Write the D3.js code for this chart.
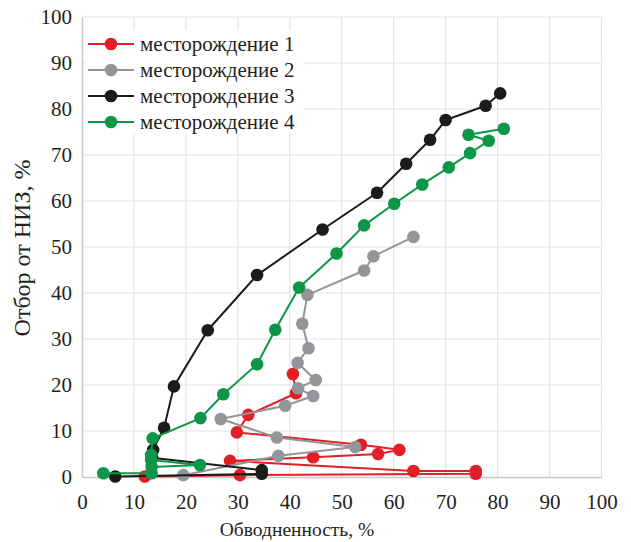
<!DOCTYPE html>
<html>
<head>
<meta charset="utf-8">
<script src="https://cdn.jsdelivr.net/npm/d3@7"></script>
<style>
  body { margin: 0; background: #fff; }
  svg text { font-family: "Liberation Serif", "DejaVu Serif", serif; fill: #231f20; }
</style>
</head>
<body>
<svg id="chart"></svg>
<script>
// values (x = обводненность %, y = отбор от НИЗ %)
const field1X = [12.1, 30.4, 75.8, 75.8, 63.8, 28.5, 44.5, 57.0, 61.1, 53.7, 29.8, 32.0, 41.2, 40.6];
const field1Y = [0.1, 0.4, 0.7, 1.3, 1.3, 3.5, 4.3, 5.0, 5.9, 7.0, 9.7, 13.5, 18.2, 22.4];

const field2X = [19.5, 37.8, 52.6, 37.5, 26.7, 39.1, 44.5, 41.6, 45.0, 41.5, 43.6, 42.4, 43.4, 54.3, 56.1, 63.8];
const field2Y = [0.4, 4.6, 6.5, 8.6, 12.6, 15.5, 17.6, 19.3, 21.1, 24.8, 28.0, 33.3, 39.6, 44.9, 48.0, 52.2];

const field3X = [6.4, 34.6, 34.6, 13.5, 13.7, 15.8, 17.7, 24.2, 33.7, 46.3, 56.8, 62.4, 67.0, 70.0, 77.7, 80.5];
const field3Y = [0.1, 0.7, 1.5, 4.2, 5.9, 10.7, 19.7, 31.9, 43.9, 53.8, 61.8, 68.1, 73.3, 77.6, 80.7, 83.4];

const field4X = [4.1, 13.4, 13.4, 22.7, 13.3, 13.3, 13.6, 22.8, 27.2, 33.7, 37.2, 41.8, 49.0, 54.3, 60.1, 65.5, 70.6, 74.7, 78.3, 74.4, 81.2];
const field4Y = [0.8, 0.8, 2.2, 2.6, 3.7, 4.8, 8.4, 12.8, 18.0, 24.5, 32.0, 41.2, 48.6, 54.7, 59.4, 63.6, 67.3, 70.4, 73.1, 74.4, 75.7];

const seriesNames = ["месторождение 1", "месторождение 2", "месторождение 3", "месторождение 4"];
const seriesColors = ["#e31e26", "#939598", "#1c1b1c", "#0d9648"];
const xTicks = d3.range(0, 101, 10);
const yTicks = d3.range(0, 101, 10);
const xTitle = "Обводненность, %";
const yTitle = "Отбор от НИЗ, %";

const W = 631, H = 542;
const plot = { left: 82, right: 601.5, top: 17, bottom: 477 };

const svg = d3.select("#chart").attr("width", W).attr("height", H);

const x = d3.scaleLinear().domain([0, 100]).range([plot.left, plot.right]);
const y = d3.scaleLinear().domain([0, 100]).range([plot.bottom, plot.top]);

// grid
svg.append("g")
    .selectAll("line")
    .data(xTicks.slice(1))
    .join("line")
    .attr("x1", d => x(d)).attr("x2", d => x(d))
    .attr("y1", plot.top).attr("y2", plot.bottom)
    .attr("stroke", "#e3e3e3").attr("stroke-width", 1.2);

svg.append("g")
    .selectAll("line")
    .data(yTicks.slice(1))
    .join("line")
    .attr("x1", plot.left).attr("x2", plot.right)
    .attr("y1", d => y(d)).attr("y2", d => y(d))
    .attr("stroke", "#e3e3e3").attr("stroke-width", 1.2);

// axes
const xAxis = svg.append("g")
    .attr("transform", `translate(0,${plot.bottom})`)
    .call(d3.axisBottom(x).tickValues(xTicks).tickSize(0).tickPadding(17));
const yAxis = svg.append("g")
    .attr("transform", `translate(${plot.left},0)`)
    .call(d3.axisLeft(y).tickValues(yTicks).tickSize(0).tickPadding(10));

[xAxis, yAxis].forEach(a => {
    a.select(".domain").attr("stroke", "#c8c8c8").attr("stroke-width", 1.5);
    a.selectAll("text").attr("font-size", 21).attr("font-family", "Liberation Serif");
});

svg.append("text")
    .attr("x", 297).attr("y", 536)
    .attr("text-anchor", "middle")
    .attr("font-size", 19.5)
    .text(xTitle);

svg.append("text")
    .attr("transform", "translate(30,248) rotate(-90)")
    .attr("text-anchor", "middle")
    .attr("font-size", 24)
    .text(yTitle);

// series
const allSeries = [
    { xs: field1X, ys: field1Y },
    { xs: field2X, ys: field2Y },
    { xs: field3X, ys: field3Y },
    { xs: field4X, ys: field4Y }
].map((s, i) => ({
    name: seriesNames[i],
    color: seriesColors[i],
    points: s.xs.map((v, j) => [v, s.ys[j]])
}));

const line = d3.line().x(d => x(d[0])).y(d => y(d[1]));

allSeries.forEach(s => {
    const g = svg.append("g");
    g.append("path")
        .datum(s.points)
        .attr("fill", "none")
        .attr("stroke", s.color)
        .attr("stroke-width", 2)
        .attr("stroke-linejoin", "round")
        .attr("d", line);
    g.selectAll("circle")
        .data(s.points)
        .join("circle")
        .attr("cx", d => x(d[0]))
        .attr("cy", d => y(d[1]))
        .attr("r", 6.3)
        .attr("fill", s.color);
});

// legend
const legend = svg.append("g");
legend.append("rect")
    .attr("x", 85).attr("y", 30).attr("width", 218).attr("height", 104)
    .attr("fill", "#fff");

const rows = legend.selectAll("g")
    .data(allSeries)
    .join("g")
    .attr("transform", (d, i) => `translate(0,${44 + i * 26})`);
rows.append("line")
    .attr("x1", 88).attr("x2", 134).attr("y1", 0).attr("y2", 0)
    .attr("stroke", d => d.color).attr("stroke-width", 2);
rows.append("circle")
    .attr("cx", 111).attr("cy", 0).attr("r", 6.3)
    .attr("fill", d => d.color);
rows.append("text")
    .attr("x", 140).attr("y", 0).attr("dy", "0.33em")
    .attr("font-size", 21)
    .text(d => d.name);
</script>
</body>
</html>
